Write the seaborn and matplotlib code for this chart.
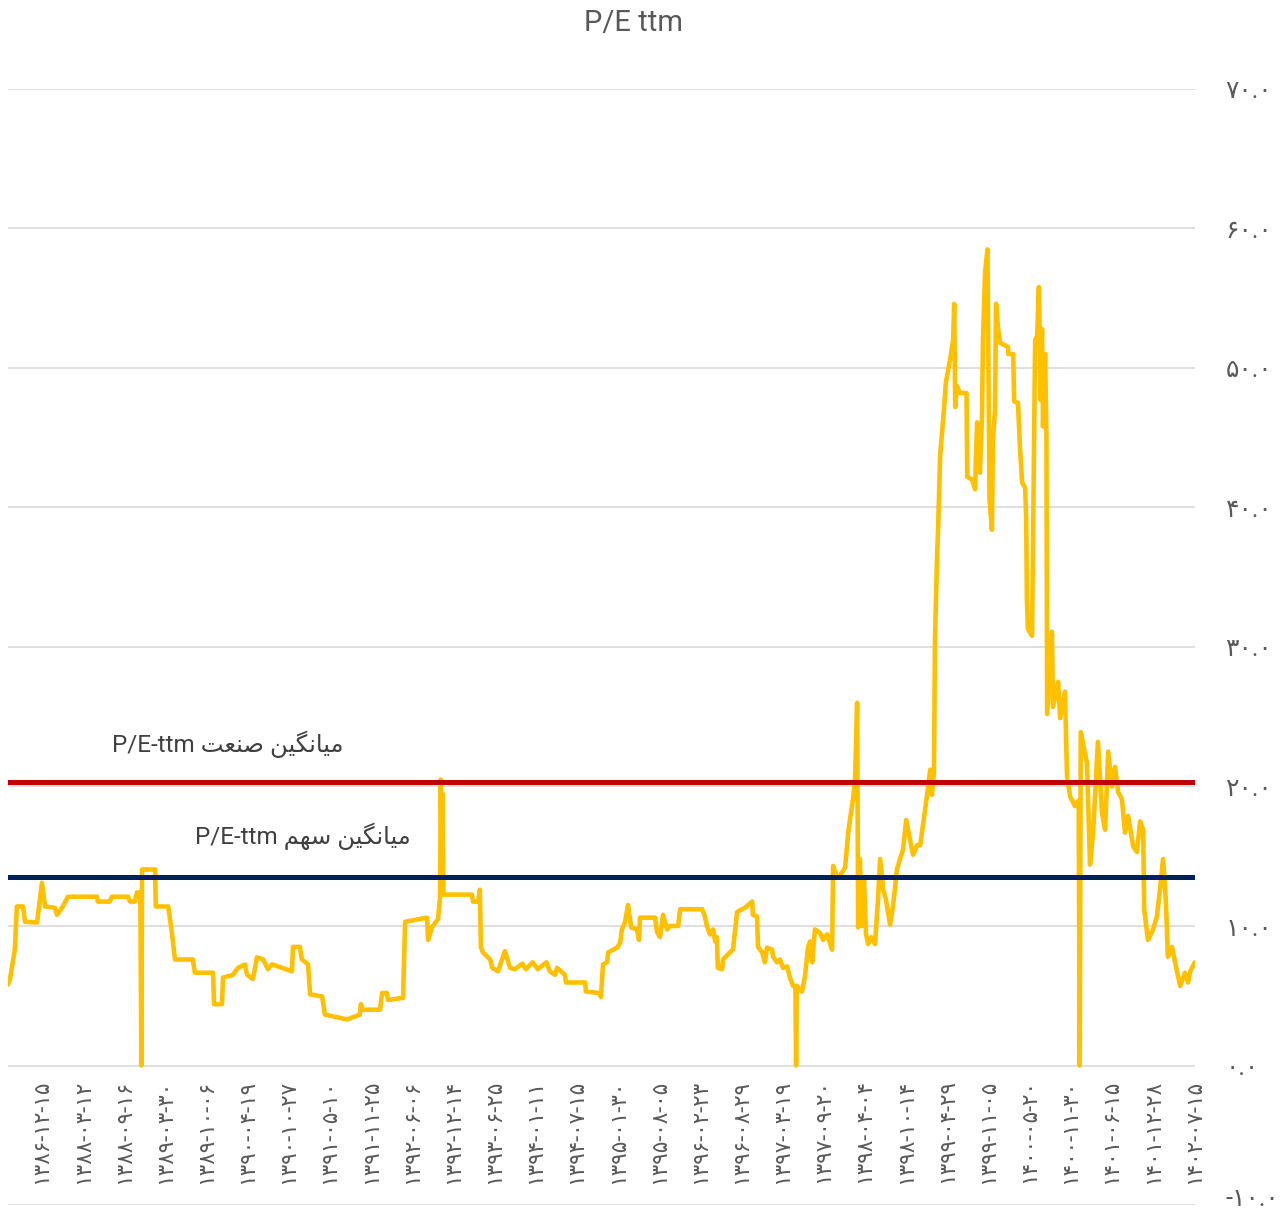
import matplotlib
matplotlib.use('Agg')
import matplotlib.pyplot as plt
import matplotlib.transforms as mtransforms
import seaborn as sns

# trading-day index and P/E ttm
days = [0, 6, 20, 26, 44, 50, 85, 99, 108, 137, 143, 160, 175, 260, 262, 297, 303, 350, 356, 370,
        376, 386, 389, 391, 429, 431, 467, 472, 478, 487, 539, 545, 598, 601, 624, 627, 656, 671, 691, 697,
        714, 726, 744, 758, 770, 828, 831, 851, 857, 875, 881, 916, 924, 989, 1026, 1029, 1035, 1085, 1091, 1105,
        1108, 1152, 1158, 1222, 1225, 1236, 1254, 1260, 1262, 1265, 1267, 1270, 1353, 1356, 1371, 1376, 1379, 1385, 1406, 1412,
        1429, 1449, 1464, 1478, 1500, 1510, 1530, 1545, 1570, 1580, 1595, 1601, 1624, 1627, 1683, 1685, 1723, 1729, 1735, 1747,
        1750, 1776, 1785, 1790, 1799, 1808, 1817, 1834, 1840, 1843, 1887, 1892, 1901, 1910, 1922, 1930, 1954, 1960, 2024, 2032,
        2038, 2047, 2056, 2062, 2067, 2070, 2082, 2085, 2105, 2114, 2126, 2140, 2149, 2158, 2170, 2172, 2184, 2187, 2199, 2207,
        2213, 2228, 2231, 2242, 2251, 2260, 2272, 2280, 2289, 2296, 2298, 2300, 2315, 2324, 2333, 2339, 2345, 2353, 2368, 2377,
        2388, 2403, 2406, 2417, 2426, 2441, 2450, 2455, 2464, 2470, 2476, 2479, 2484, 2490, 2496, 2502, 2508, 2517, 2528, 2537,
        2543, 2552, 2560, 2572, 2581, 2592, 2601, 2610, 2619, 2630, 2639, 2651, 2660, 2670, 2680, 2689, 2694, 2700, 2703, 2709,
        2712, 2718, 2729, 2735, 2747, 2756, 2759, 2762, 2767, 2776, 2795, 2797, 2811, 2820, 2823, 2826, 2834, 2840, 2843, 2849,
        2856, 2862, 2869, 2872, 2878, 2881, 2887, 2893, 2916, 2917, 2931, 2934, 2945, 2951, 2957, 2966, 2969, 2971, 2974, 2986,
        2990, 2995, 3001, 3006, 3011, 3015, 3018, 3024, 3028, 3030, 3044, 3047, 3062, 3068, 3082, 3088, 3097, 3111, 3122, 3125,
        3128, 3146, 3155, 3164, 3178, 3190, 3199, 3208, 3219, 3228, 3237, 3248, 3257, 3266, 3281, 3292, 3301, 3310, 3313, 3324,
        3339, 3350, 3359, 3368, 3376, 3382, 3394, 3403, 3418, 3432, 3441, 3447, 3461]
pe = [5.8, 6.2, 8.3, 11.4, 11.4, 10.3, 10.25, 13.1, 11.4, 11.3, 10.8, 11.4, 12.1, 12.1, 11.75, 11.75, 12.1, 12.1, 11.75, 11.75,
      12.4, 12.4, 0.0, 14.05, 14.05, 11.4, 11.4, 10.6, 9.5, 7.6, 7.6, 6.65, 6.65, 4.4, 4.4, 6.3, 6.5, 7.0, 7.25, 6.5,
      6.2, 7.75, 7.6, 6.9, 7.25, 6.75, 8.5, 8.5, 7.6, 7.25, 5.1, 4.95, 3.65, 3.3, 3.65, 4.4, 4.0, 4.0, 5.2, 5.2,
      4.7, 4.85, 10.3, 10.6, 9.0, 9.9, 10.5, 12.1, 20.5, 14.0, 19.5, 12.25, 12.25, 11.75, 11.75, 12.6, 8.5, 8.1, 7.6, 7.0,
      6.75, 8.2, 7.0, 6.9, 7.3, 6.9, 7.4, 6.9, 7.4, 6.75, 6.5, 7.0, 6.5, 5.95, 5.95, 5.3, 5.2, 4.9, 7.25, 7.4,
      8.1, 8.45, 8.8, 9.75, 10.25, 11.5, 9.9, 9.75, 9.0, 10.6, 10.6, 9.6, 9.2, 10.8, 9.75, 10.0, 10.0, 11.2, 11.2, 10.7,
      10.0, 9.4, 9.75, 8.9, 9.2, 7.0, 6.9, 7.6, 8.1, 8.3, 11.0, 11.2, 11.3, 11.5, 11.75, 10.8, 10.7, 8.5, 8.1, 7.4,
      8.45, 8.3, 7.8, 7.4, 7.6, 7.0, 7.1, 6.3, 5.7, 5.7, 0.0, 5.7, 5.3, 6.4, 8.5, 8.9, 7.4, 9.75, 9.5, 9.0,
      9.4, 8.3, 14.3, 13.55, 13.6, 14.2, 16.7, 17.6, 19.1, 20.5, 26.0, 9.9, 14.8, 10.0, 13.3, 9.4, 8.7, 9.2, 8.7, 11.9,
      14.8, 12.6, 11.9, 10.1, 11.5, 14.05, 14.8, 15.5, 17.6, 16.2, 15.1, 15.8, 15.8, 17.6, 19.4, 21.2, 19.4, 21.0, 30.5, 36.5,
      38.4, 43.7, 47.0, 49.0, 50.6, 52.0, 54.6, 47.2, 48.7, 48.2, 48.2, 42.2, 42.0, 41.3, 44.2, 46.1, 42.5, 46.5, 52.0, 56.8,
      58.5, 40.6, 38.4, 44.9, 47.0, 54.6, 52.8, 51.8, 51.5, 51.0, 51.0, 47.6, 47.5, 44.2, 41.8, 41.4, 39.1, 33.4, 31.3, 30.8,
      40.0, 52.0, 52.3, 55.8, 47.7, 52.8, 45.8, 51.0, 45.0, 25.2, 31.1, 25.7, 27.5, 24.9, 26.8, 20.7, 19.3, 18.6, 19.0, 0.0,
      23.9, 21.7, 14.4, 16.7, 23.2, 18.1, 16.9, 22.5, 20.0, 21.4, 19.6, 19.1, 16.7, 17.9, 15.7, 15.3, 17.5, 16.9, 11.2, 9.0,
      9.75, 10.7, 12.6, 14.8, 11.9, 7.8, 8.5, 7.4, 5.7, 6.65, 5.95, 6.75, 7.4]

industry_avg = 20.3
stock_avg = 13.5

tick_days = [99 + 120 * k for k in range(29)]
tick_labels = ['۱۳۸۶-۱۲-۱۵', '۱۳۸۸-۰۳-۱۲', '۱۳۸۸-۰۹-۱۶', '۱۳۸۹-۰۳-۳۰', '۱۳۸۹-۱۰-۰۶', '۱۳۹۰-۰۴-۱۹',
               '۱۳۹۰-۱۰-۲۷', '۱۳۹۱-۰۵-۱۰', '۱۳۹۱-۱۱-۲۵', '۱۳۹۲-۰۶-۰۶', '۱۳۹۲-۱۲-۱۴', '۱۳۹۳-۰۶-۲۵',
               '۱۳۹۴-۰۱-۱۱', '۱۳۹۴-۰۷-۱۵', '۱۳۹۵-۰۱-۳۰', '۱۳۹۵-۰۸-۰۵', '۱۳۹۶-۰۲-۲۳', '۱۳۹۶-۰۸-۲۹',
               '۱۳۹۷-۰۳-۱۹', '۱۳۹۷-۰۹-۲۰', '۱۳۹۸-۰۴-۰۴', '۱۳۹۸-۱۰-۱۴', '۱۳۹۹-۰۴-۲۹', '۱۳۹۹-۱۱-۰۵',
               '۱۴۰۰-۰۵-۲۰', '۱۴۰۰-۱۱-۳۰', '۱۴۰۱-۰۶-۱۵', '۱۴۰۱-۱۲-۲۸', '۱۴۰۲-۰۷-۱۵']
y_ticks = [-10, 0, 10, 20, 30, 40, 50, 60, 70]

industry_label = 'میانگین صنعت'
stock_label = 'میانگین سهم'

# matplotlib does no arabic shaping, so pick presentation forms by hand
# (isolated, final, initial, medial); None = letter does not join forward
FORMS = {
    'ا': ('\uFE8D', '\uFE8E', None, None),
    'ت': ('\uFE95', '\uFE96', '\uFE97', '\uFE98'),
    'س': ('\uFEB1', '\uFEB2', '\uFEB3', '\uFEB4'),
    'ص': ('\uFEB9', '\uFEBA', '\uFEBB', '\uFEBC'),
    'ع': ('\uFEC9', '\uFECA', '\uFECB', '\uFECC'),
    'م': ('\uFEE1', '\uFEE2', '\uFEE3', '\uFEE4'),
    'ن': ('\uFEE5', '\uFEE6', '\uFEE7', '\uFEE8'),
    'ه': ('\uFEE9', '\uFEEA', '\uFEEB', '\uFEEC'),
    'ی': ('\uFBFC', '\uFBFD', '\uFBFE', '\uFBFF'),
    'گ': ('\uFB92', '\uFB93', '\uFB94', '\uFB95'),
}


def shape_fa(text):
    out = []
    for i, ch in enumerate(text):
        if ch not in FORMS:
            out.append(ch)
            continue
        prev = text[i - 1] if i > 0 else ''
        nxt = text[i + 1] if i + 1 < len(text) else ''
        join_prev = prev in FORMS and FORMS[prev][2] is not None
        join_next = FORMS[ch][2] is not None and nxt in FORMS
        iso, fin, ini, med = FORMS[ch]
        if join_prev and join_next:
            out.append(med)
        elif join_prev:
            out.append(fin)
        elif join_next:
            out.append(ini)
        else:
            out.append(iso)
    return ''.join(reversed(out))


def fa_digits(s):
    return s.translate(str.maketrans('0123456789', '۰۱۲۳۴۵۶۷۸۹'))


sns.set_theme(style='white')
plt.rcParams['font.family'] = ['Roboto', 'DejaVu Sans']

fig = plt.figure(figsize=(12.82, 12.09), dpi=100)
ax = fig.add_axes([0.0062, 0.0033, 0.9259, 0.9231])

sns.lineplot(x=days, y=pe, ax=ax, color='#FFC000', linewidth=3.3, estimator=None, sort=False,
             solid_joinstyle='round', solid_capstyle='round', zorder=2)
ax.axhline(industry_avg, color='#C00000', linewidth=3.6, zorder=3)
ax.axhline(stock_avg, color='#002060', linewidth=3.6, zorder=3)

ax.text(303, 22.5, 'P/E-ttm ' + shape_fa(industry_label), fontsize=17.5, color='#404040',
        family=['Roboto', 'DejaVu Sans'], va='baseline')
ax.text(545, 15.85, 'P/E-ttm ' + shape_fa(stock_label), fontsize=17.5, color='#404040',
        family=['Roboto', 'DejaVu Sans'], va='baseline')

# category axis crosses at 0; set this before the tick labels (it resets them)
ax.spines['bottom'].set_position(('data', 0))
for sp in ax.spines.values():
    sp.set_visible(False)

ax.set_xlim(0, 3461)
ax.set_ylim(-10, 70)
ax.set_xticks(tick_days)
ax.set_xticklabels(tick_labels, rotation=90, fontsize=15.5, color='#595959')
ax.set_yticks(y_ticks)
ax.set_yticklabels([fa_digits(f'{v:.1f}') for v in y_ticks], fontsize=18, color='#595959')
ax.yaxis.tick_right()
ax.tick_params(axis='x', length=0, pad=10)
ax.tick_params(axis='y', length=0, pad=22)
ax.grid(axis='y', color='#D9D9D9', linewidth=1.2)
ax.grid(axis='x', visible=False)
ax.set_axisbelow(True)
ax.set_xlabel('')
ax.set_ylabel('')

# lift the bottom value label a little so it stays inside the figure
low = ax.get_yticklabels()[0]
low.set_transform(low.get_transform() + mtransforms.ScaledTranslation(0, 6 / 72, fig.dpi_scale_trans))

fig.text(0.4938, 0.981, 'P/E ttm', ha='center', va='center', fontsize=21, color='#595959')

fig.savefig('out.png', dpi=100)
